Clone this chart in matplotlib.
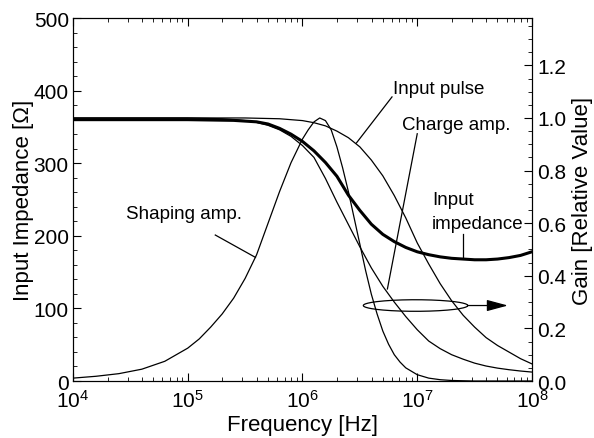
import numpy as np
import matplotlib
matplotlib.use("Agg")
import matplotlib.pyplot as plt
from matplotlib.ticker import MultipleLocator, FixedLocator, FormatStrFormatter

plt.rcParams['font.family'] = ['Liberation Sans', 'DejaVu Sans']

# input impedance (ohm)
imp_logf = [4.0, 5.0, 5.4, 5.6, 5.7, 5.8, 5.9, 6.0, 6.1, 6.2, 6.3, 6.4, 6.5, 6.6, 6.7,
            6.8, 6.9, 7.0, 7.1, 7.2, 7.3, 7.4, 7.5, 7.6, 7.7, 7.8, 7.9, 8.0]
imp_ohm = [360, 360, 359, 357, 354, 348, 340, 330, 317, 301, 282, 256, 235, 216, 202,
           192, 184, 178, 174, 171, 169, 168, 167, 167, 168, 170, 173, 178]

# gains (relative)
pulse_logf = [4.0, 5.5, 5.8, 6.0, 6.1, 6.2, 6.3, 6.4, 6.5, 6.6, 6.7, 6.8, 6.9, 7.0,
              7.1, 7.2, 7.3, 7.4, 7.5, 7.6, 7.7, 7.8, 7.9, 8.0]
pulse_gain = [1.0, 1.0, 0.997, 0.99, 0.982, 0.97, 0.95, 0.925, 0.89, 0.84, 0.78, 0.705, 0.62, 0.525,
              0.445, 0.37, 0.305, 0.25, 0.205, 0.165, 0.135, 0.11, 0.085, 0.065]

charge_logf = [4.0, 5.0, 5.3, 5.5, 5.6, 5.7, 5.8, 5.9, 6.0, 6.1, 6.2, 6.3, 6.4, 6.5, 6.6,
               6.7, 6.8, 6.9, 7.0, 7.1, 7.2, 7.3, 7.4, 7.5, 7.6, 7.7, 7.8, 7.9, 8.0]
charge_gain = [1.0, 1.0, 0.997, 0.99, 0.983, 0.972, 0.955, 0.93, 0.895, 0.85, 0.77, 0.68, 0.595, 0.51, 0.43,
               0.36, 0.30, 0.245, 0.195, 0.152, 0.123, 0.10, 0.083, 0.068, 0.057, 0.049, 0.043, 0.038, 0.034]

shaping_logf = [4.0, 4.2, 4.4, 4.6, 4.8, 5.0, 5.1, 5.2, 5.3, 5.4, 5.5, 5.6, 5.7, 5.8, 5.9,
                6.0, 6.05, 6.1, 6.15, 6.2, 6.25, 6.3, 6.35, 6.4, 6.45, 6.5, 6.55, 6.6, 6.65,
                6.7, 6.75, 6.8, 6.85, 6.9, 7.0, 7.1, 7.2, 7.3, 7.5, 8.0]
shaping_gain = [0.011, 0.018, 0.028, 0.045, 0.075, 0.125, 0.16, 0.205, 0.255, 0.315, 0.39, 0.48, 0.60, 0.72, 0.83,
                0.92, 0.955, 0.985, 1.0, 0.99, 0.955, 0.89, 0.81, 0.72, 0.62, 0.52, 0.42, 0.33, 0.255,
                0.19, 0.14, 0.10, 0.072, 0.05, 0.024, 0.011, 0.005, 0.002, 0.0, 0.0]

fig = plt.figure(figsize=(5.94, 4.39), dpi=100)
ax = fig.add_axes([0.1229, 0.1298, 0.7727, 0.8269])
ax2 = ax.twinx()

ax.plot(10 ** np.array(imp_logf), imp_ohm, color='black', lw=2.2)
ax2.plot(10 ** np.array(pulse_logf), pulse_gain, color='black', lw=0.9)
ax2.plot(10 ** np.array(charge_logf), charge_gain, color='black', lw=0.9)
ax2.plot(10 ** np.array(shaping_logf), shaping_gain, color='black', lw=0.9)

ax.set_xscale('log')
ax.set_xlim(1e4, 1e8)
ax.set_ylim(0, 500)
ax2.set_ylim(0, 1.38)

ax.yaxis.set_major_locator(MultipleLocator(100))
ax.yaxis.set_minor_locator(MultipleLocator(20))
ax2.yaxis.set_major_locator(FixedLocator([0.0, 0.2, 0.4, 0.6, 0.8, 1.0, 1.2]))
ax2.yaxis.set_minor_locator(MultipleLocator(0.05))
ax2.yaxis.set_major_formatter(FormatStrFormatter('%.1f'))

ax.tick_params(axis='x', which='both', direction='in', top=True, labelsize=15, pad=6)
ax.tick_params(axis='y', which='both', direction='in', right=False, labelsize=15, pad=3)
ax2.tick_params(axis='y', which='both', direction='in', labelsize=15, pad=4)
ax.tick_params(which='major', length=6)
ax.tick_params(which='minor', length=3)
ax2.tick_params(which='major', length=6)
ax2.tick_params(which='minor', length=3)

ax.set_xlabel('Frequency [Hz]', fontsize=16, labelpad=2)
ax.set_ylabel('Input Impedance [Ω]', fontsize=16, labelpad=0)
ax2.set_ylabel('Gain [Relative Value]', fontsize=16, labelpad=4)

# labels and pointers
ax2.text(10 ** 6.79, 1.113, 'Input pulse', fontsize=13.5, va='center', ha='left')
ax2.plot([10 ** 6.78, 10 ** 6.47], [1.08, 0.905], color='black', lw=0.9)

ax2.text(10 ** 6.87, 0.975, 'Charge amp.', fontsize=13.5, va='center', ha='left')
ax2.plot([10 ** 7.0, 10 ** 6.74], [0.94, 0.35], color='black', lw=0.9)

ax2.text(10 ** 7.13, 0.69, 'Input', fontsize=13.5, va='center', ha='left')
ax2.text(10 ** 7.13, 0.60, 'impedance', fontsize=13.5, va='center', ha='left')
ax.plot([10 ** 7.4, 10 ** 7.4], [203, 170], color='black', lw=0.9)

ax2.text(10 ** 4.46, 0.635, 'Shaping amp.', fontsize=13.5, va='center', ha='left')
ax2.plot([10 ** 5.24, 10 ** 5.59], [0.555, 0.47], color='black', lw=0.9)

# ellipse around the gain curves with arrow to the right axis
t = np.linspace(0, 2 * np.pi, 200)
ax2.plot(10 ** (6.985 + 0.455 * np.cos(t)), 0.287 + 0.022 * np.sin(t), color='black', lw=0.9)
ax2.annotate('', xy=(10 ** 7.79, 0.287), xytext=(10 ** 7.44, 0.287),
             arrowprops=dict(arrowstyle='-|>,head_length=1.3,head_width=0.35', color='black', lw=0.9,
                             shrinkA=0, shrinkB=0))

fig.savefig('out.png', dpi=100)
